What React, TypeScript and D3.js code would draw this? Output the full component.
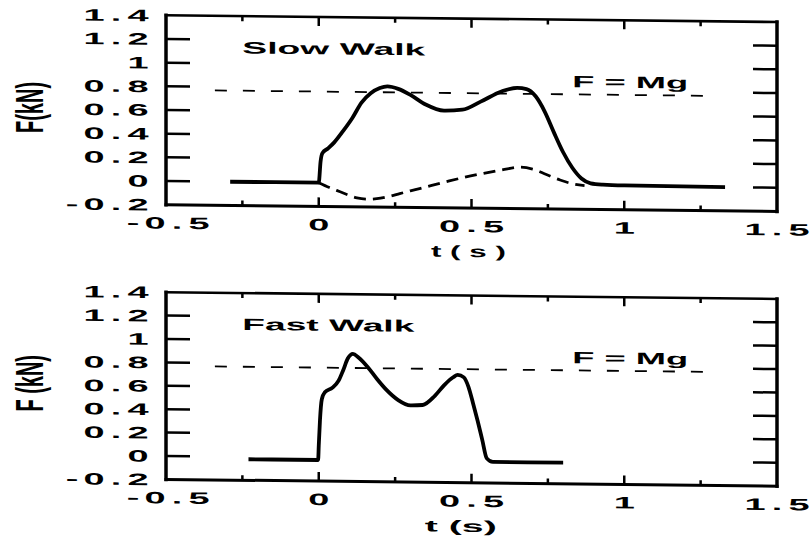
import React from 'react';
import * as d3 from 'd3';

// ---------- data ----------
const slowT = [-0.29, 0.0, 0.006, 0.012, 0.03, 0.05, 0.08, 0.11, 0.14, 0.17, 0.2, 0.225, 0.26, 0.3, 0.35, 0.41, 0.47, 0.53, 0.6, 0.65, 0.68, 0.71, 0.74, 0.77, 0.8, 0.83, 0.86, 0.89, 0.93, 1.0, 1.33];
const slowF = [0, 0, 0.18, 0.25, 0.29, 0.34, 0.44, 0.55, 0.68, 0.76, 0.805, 0.82, 0.8, 0.75, 0.67, 0.62, 0.63, 0.7, 0.79, 0.82, 0.81, 0.75, 0.62, 0.445, 0.28, 0.15, 0.06, 0.02, 0.01, 0.005, 0];

const slowHorizT = [0, 0.035, 0.07, 0.1, 0.125, 0.16, 0.19, 0.23, 0.265, 0.3, 0.33, 0.37, 0.41, 0.47, 0.54, 0.6, 0.66, 0.7, 0.745, 0.79, 0.83, 0.87];
const slowHorizF = [0, -0.04, -0.075, -0.105, -0.125, -0.135, -0.13, -0.11, -0.085, -0.06, -0.04, -0.012, 0.015, 0.055, 0.095, 0.125, 0.15, 0.135, 0.09, 0.045, 0.015, 0.0];

const fastT = [-0.23, -0.002, 0.0, 0.004, 0.01, 0.02, 0.045, 0.065, 0.08, 0.095, 0.112, 0.13, 0.16, 0.19, 0.22, 0.26, 0.3, 0.34, 0.38, 0.41, 0.44, 0.455, 0.475, 0.49, 0.505, 0.52, 0.535, 0.55, 0.57, 0.8];
const fastF = [-0.02, -0.02, 0.1, 0.32, 0.5, 0.56, 0.6, 0.66, 0.75, 0.85, 0.89, 0.86, 0.78, 0.68, 0.59, 0.5, 0.455, 0.46, 0.54, 0.63, 0.7, 0.72, 0.7, 0.62, 0.48, 0.33, 0.17, 0.01, -0.02, -0.02];

const mgValue = 0.77;
const mgT = [-0.34, 1.3];

const yTickValues = [-0.2, 0, 0.2, 0.4, 0.6, 0.8, 1, 1.2, 1.4];
const yTickLabels = ['-0.2', '0', '0.2', '0.4', '0.6', '0.8', '1', '1.2', '1.4'];
const xTickValues = [-0.5, 0, 0.5, 1, 1.5];
const xTickLabels = ['-0.5', '0', '0.5', '1', '1.5'];
const xFrameTicks = [-0.25, 0, 0.25, 0.5, 0.75, 1, 1.25];
const xMajorFrameTicks = [0, 0.5, 1];

// ---------- style ----------
const FONT = '"Liberation Sans", Arial, Helvetica, sans-serif';
const SKEW_DEG = 0.63;
const INK = '#000';

function zip(a: number[], b: number[]): [number, number][] {
  return a.map((v, i) => [v, b[i]] as [number, number]);
}

function CharLabel({ text, cx, y, slot, sx, size }: { text: string; cx: number; y: number; slot: number; sx: number; size: number }) {
  const chars = text.split('');
  const n = chars.length;
  return (
    <g>
      {chars.map((c, i) => (
        <text
          key={i}
          transform={`translate(${cx + (i - (n - 1) / 2) * slot},${y}) scale(${sx},1)`}
          textAnchor="middle"
          fontFamily={FONT}
          fontWeight="bold"
          fontSize={size}
          fill={INK}
        >
          {c}
        </text>
      ))}
    </g>
  );
}

type Curve = { t: number[]; f: number[]; width: number; dash?: string };

function Panel(props: {
  yTop: number;
  yBot: number;
  curves: Curve[];
  title: string;
  titleLen: number;
  xLabel: string;
  xLabelLen: number;
  xLabelT: number;
  yLabel: string;
}) {
  const { yTop, yBot, curves, title, titleLen, xLabel, xLabelLen, xLabelT, yLabel } = props;
  const x = d3.scaleLinear().domain([-0.5, 1.5]).range([166, 777]);
  const y = d3.scaleLinear().domain([-0.2, 1.4]).range([yBot, yTop]);
  const line = d3
    .line<[number, number]>()
    .x((d) => x(d[0]))
    .y((d) => y(d[1]))
    .curve(d3.curveMonotoneX);
  const x0 = x(-0.5);
  const x1 = x(1.5);
  const yb = y(-0.2);
  const yt = y(1.4);
  const skew = `translate(${x0},0) skewY(${SKEW_DEG}) translate(${-x0},0)`;
  const slot = 22;

  return (
    <g>
      <g transform={skew}>
        {curves.map((c, i) => (
          <path
            key={i}
            d={line(zip(c.t, c.f)) || ''}
            fill="none"
            stroke={INK}
            strokeWidth={c.width}
            strokeDasharray={c.dash}
            strokeLinejoin="round"
          />
        ))}
        <path
          d={line(zip(mgT, [mgValue, mgValue])) || ''}
          fill="none"
          stroke={INK}
          strokeWidth={1.8}
          strokeDasharray="12,16"
        />
        <line x1={x0} x2={x1} y1={yt} y2={yt} stroke={INK} strokeWidth={2.6} strokeLinecap="square" />
        <line x1={x0} x2={x1} y1={yb} y2={yb} stroke={INK} strokeWidth={3} strokeLinecap="square" />
        <line x1={x0} x2={x0} y1={yt} y2={yb} stroke={INK} strokeWidth={3.5} strokeLinecap="square" />
        <line x1={x1} x2={x1} y1={yt} y2={yb} stroke={INK} strokeWidth={3.5} strokeLinecap="square" />
        {yTickValues.slice(1, -1).map((v) => (
          <g key={v}>
            <line x1={x0} x2={x0 + 24} y1={y(v)} y2={y(v)} stroke={INK} strokeWidth={2.5} />
            <line x1={x1} x2={x1 - 24} y1={y(v)} y2={y(v)} stroke={INK} strokeWidth={2.5} />
          </g>
        ))}
        {xFrameTicks.map((v) => {
          const len = xMajorFrameTicks.includes(v) ? 9 : 5;
          return (
            <g key={v}>
              <line x1={x(v)} x2={x(v)} y1={yt} y2={yt + len} stroke={INK} strokeWidth={2.5} />
              <line x1={x(v)} x2={x(v)} y1={yb} y2={yb - len} stroke={INK} strokeWidth={2.5} />
            </g>
          );
        })}
        {yTickValues.map((v, i) => {
          const s = yTickLabels[i];
          const n = s.length;
          const cx = x0 - 28 - ((n - 1) / 2) * slot;
          return <CharLabel key={v} text={s} cx={cx} y={y(v) + 6} slot={slot} sx={2.3} size={16.5} />;
        })}
        {xTickValues.map((v, i) => (
          <CharLabel key={v} text={xTickLabels[i]} cx={x(v)} y={yb + 24} slot={slot} sx={2.3} size={16.5} />
        ))}
        <text
          x={x(xLabelT)}
          y={yb + 49}
          textAnchor="middle"
          fontFamily={FONT}
          fontWeight="bold"
          fontSize={16}
          textLength={xLabelLen}
          lengthAdjust="spacingAndGlyphs"
          fill={INK}
        >
          {xLabel}
        </text>
        <text
          x={x(-0.25)}
          y={y(1.085)}
          fontFamily={FONT}
          fontWeight="bold"
          fontSize={16.5}
          textLength={titleLen}
          lengthAdjust="spacingAndGlyphs"
          fill={INK}
        >
          {title}
        </text>
        <text
          x={x(0.83)}
          y={y(0.83)}
          fontFamily={FONT}
          fontWeight="bold"
          fontSize={16.5}
          textLength={116}
          lengthAdjust="spacingAndGlyphs"
          fill={INK}
        >
          F = Mg
        </text>
      </g>
      <g transform={`translate(43,${(yt + yb) / 2 - 2.5})`}>
        <g transform="scale(1.95,1)">
          <text
            transform="rotate(-90)"
            textAnchor="middle"
            fontFamily={FONT}
            fontWeight="bold"
            fontSize={20}
            fill={INK}
          >
            {yLabel}
          </text>
        </g>
      </g>
    </g>
  );
}

export default function App() {
  return (
    <svg
      width={811}
      height={538}
      viewBox="0 0 811 538"
      style={{ position: 'absolute', left: 0, top: 0, background: '#fff' }}
    >
      <rect x={0} y={0} width={811} height={538} fill="#fff" />
      <Panel
        yTop={15.3}
        yBot={204.7}
        curves={[
          { t: slowT, f: slowF, width: 3.8 },
          { t: slowHorizT, f: slowHorizF, width: 2.8, dash: '12,7' },
        ]}
        title="Slow Walk"
        titleLen={183}
        xLabel="t ( s )"
        xLabelLen={75}
        xLabelT={0.49}
        yLabel="F(kN)"
      />
      <Panel
        yTop={292.2}
        yBot={479.4}
        curves={[{ t: fastT, f: fastF, width: 3.8 }]}
        title="Fast Walk"
        titleLen={172}
        xLabel="t  (s)"
        xLabelLen={72}
        xLabelT={0.465}
        yLabel="F (kN)"
      />
    </svg>
  );
}
